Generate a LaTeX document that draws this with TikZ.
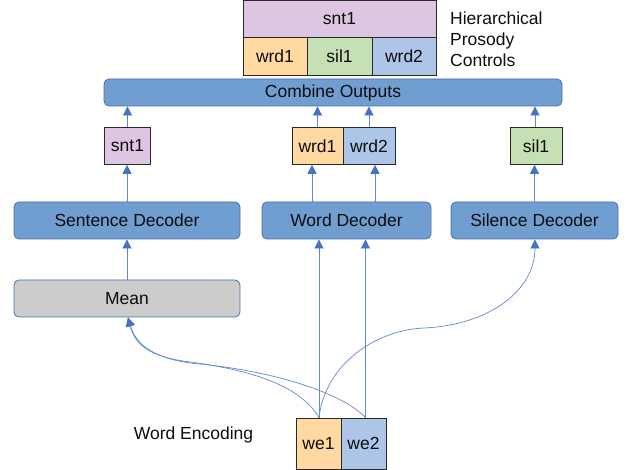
\documentclass[tikz,border=0pt]{standalone}
\usepackage{fontspec}
\setmainfont{Liberation Sans}
\usetikzlibrary{arrows.meta}
\definecolor{procfill}{RGB}{112,158,208}
\definecolor{procline}{RGB}{72,112,172}
\definecolor{meanfill}{RGB}{204,204,204}
\definecolor{linkblue}{RGB}{68,114,196}
\definecolor{linklight}{RGB}{98,136,204}
\definecolor{sntfill}{RGB}{220,198,225}
\definecolor{wrdafill}{RGB}{255,217,161}
\definecolor{silfill}{RGB}{197,224,178}
\definecolor{wrdbfill}{RGB}{173,198,232}
\definecolor{cellline}{RGB}{40,40,40}
\begin{document}
\begin{tikzpicture}[x=1pt,y=-1pt,
  every node/.style={font=\fontsize{17.5}{21}\selectfont, text=black!95, inner sep=0pt},
  proc/.style={draw=procline, fill=procfill, rounded corners=5pt, line width=0.8pt, minimum height=37pt},
  cell/.style={draw=cellline, line width=0.7pt},
  arr/.style={draw=linklight, line width=0.7pt, -{Triangle[width=9pt,length=9pt,color=linkblue]}}]
\useasboundingbox (0,0) rectangle (627,470);

% hierarchical prosody controls legend
\node[cell, fill=sntfill, minimum width=193pt, minimum height=37pt] (csnt) at (339.5,18.5) {snt1};
\node[cell, fill=wrdafill, minimum width=64pt, minimum height=38pt] (cwrd1) at (275,56) {wrd1};
\node[cell, fill=silfill, minimum width=65pt, minimum height=38pt] (csil) at (339.5,56) {sil1};
\node[cell, fill=wrdbfill, minimum width=64pt, minimum height=38pt] (cwrd2) at (404,56) {wrd2};
\node[anchor=west, align=left] (ctltext) at (450,39) {Hierarchical\\Prosody\\Controls};

% combiner
\node[proc, minimum width=458pt, minimum height=27pt] (combine) at (333,92.5) {Combine Outputs};

% decoder outputs
\node[cell, fill=sntfill, minimum width=46pt, minimum height=37pt] (snt) at (127.5,146) {snt1};
\node[cell, fill=wrdafill, minimum width=51pt, minimum height=37pt] (wrd1) at (317.5,146) {wrd1};
\node[cell, fill=wrdbfill, minimum width=52pt, minimum height=37pt] (wrd2) at (369,146) {wrd2};
\node[cell, fill=silfill, minimum width=52pt, minimum height=37pt] (sil) at (536,146) {sil1};

% decoders
\node[proc, minimum width=226pt] (sentdec) at (127,220.5) {Sentence Decoder};
\node[proc, minimum width=169pt] (worddec) at (346.5,220.5) {Word Decoder};
\node[proc, minimum width=167pt] (sildec) at (534.5,220.5) {Silence Decoder};

% pooling
\node[proc, fill=meanfill, minimum width=226pt] (mean) at (127,298.5) {Mean};

% word encodings
\node[cell, fill=wrdafill, minimum width=45pt, minimum height=51pt] (we1) at (318.5,443.5) {we1};
\node[cell, fill=wrdbfill, minimum width=45pt, minimum height=51pt] (we2) at (363.5,443.5) {we2};
\node (wetext) at (193.5,435) {Word Encoding};

% outputs into the combiner
\draw[arr] (snt.north) -- (snt.north |- combine.south);
\draw[arr] (wrd1.north) -- (wrd1.north |- combine.south);
\draw[arr] (wrd2.north) -- (wrd2.north |- combine.south);
\draw[arr] ([xshift=-1pt]sil.north) -- ([xshift=-1pt]sil.north |- combine.south);

% decoders into their outputs
\draw[arr] (sentdec.north) -- (sentdec.north |- snt.south);
\path ([xshift=-34.5pt]worddec.north) coordinate (wdA)
      ([xshift=28.5pt]worddec.north) coordinate (wdB);
\draw[arr] (wdA) -- (wdA |- wrd1.south);
\draw[arr] (wdB) -- (wdB |- wrd2.south);
\draw[arr] (sildec.north) -- (sildec.north |- sil.south);
\draw[arr] (mean.north) -- (mean.north |- sentdec.south);

% encodings into the decoders
\path ([xshift=0.5pt]we1.north) coordinate (e1)
      ([xshift=2pt]we2.north) coordinate (e2)
      ([xshift=0.5pt]sildec.south) coordinate (sd)
      ([xshift=1pt]mean.south) coordinate (mn);
\draw[arr] (e1) -- (e1 |- worddec.south);
\draw[arr] (e2) -- (e2 |- worddec.south);
\draw[arr] (e1) .. controls (325,365) and (375,330) .. (424,328)
               .. controls (490,325) and (535,290) .. (sd);
\draw[arr] (e1) .. controls (300,385) and (250,370) .. (190,362)
               .. controls (150,357) and (135,345) .. (mn);
\draw[arr] (e2) .. controls (345,395) and (280,372) .. (200,364)
               .. controls (155,360) and (136,345) .. (mn);
\end{tikzpicture}
\end{document}
